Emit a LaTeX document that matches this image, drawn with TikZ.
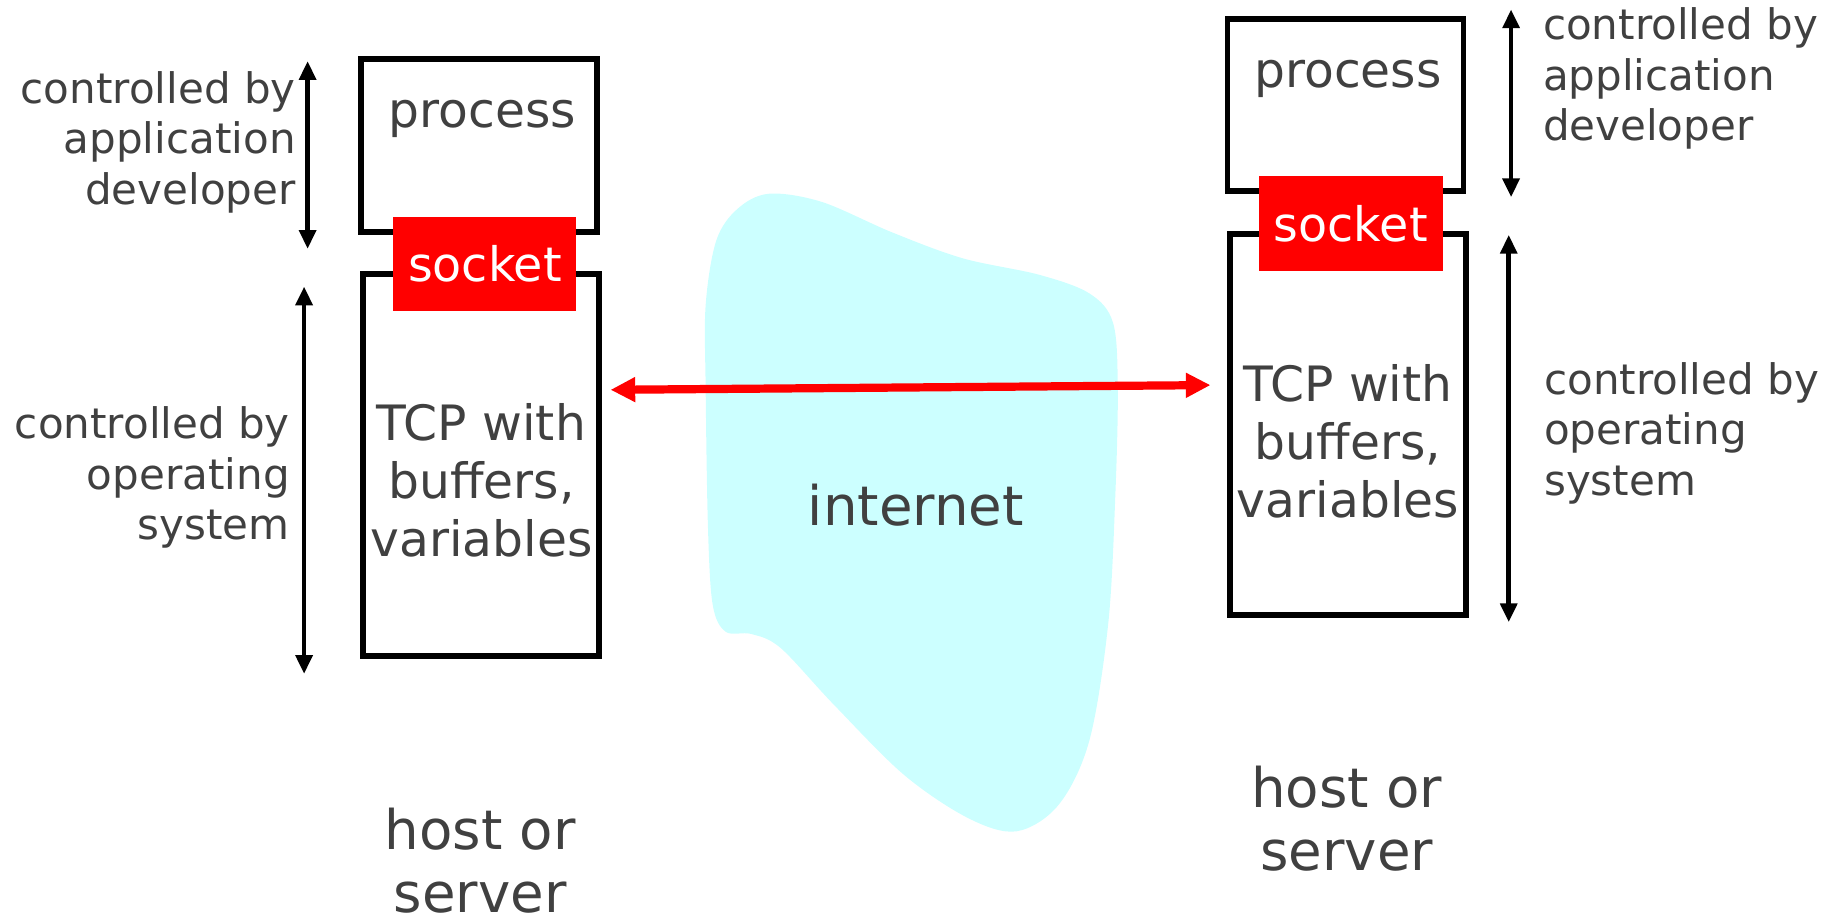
\documentclass[tikz,border=0pt]{standalone}
\usepackage{fontspec}
\setmainfont{DejaVu Sans}
\usetikzlibrary{arrows.meta}
\definecolor{txt}{HTML}{404040}
\definecolor{cloud}{HTML}{CCFFFF}
\definecolor{sockred}{HTML}{FF0000}

\begin{document}
\begin{tikzpicture}[x=1pt,y=-1pt,
  box/.style={draw=black, line width=5pt, minimum width=201pt, inner sep=0pt, outer sep=0pt},
  sock/.style={fill=sockred, minimum width=156pt, minimum height=80pt, inner sep=0pt,
    text=white, font=\fontsize{40.5}{48}\selectfont},
  lbl/.style={text=txt, inner sep=0pt, font=\fontsize{35.8}{43}\selectfont},
  big/.style={text=txt, inner sep=0pt, align=center, font=\fontsize{41.5}{49.5}\selectfont},
  huge/.style={text=txt, inner sep=0pt, align=center, font=\fontsize{46.5}{54}\selectfont},
  ctl/.style={line width=4pt, {Triangle[length=16pt,width=14pt]}-{Triangle[length=16pt,width=14pt]}},
  conn/.style={draw=sockred, line width=7pt, {Triangle[length=21pt,width=20pt]}-{Triangle[length=21pt,width=20pt]}}
]
\useasboundingbox (0,0) rectangle (1568,779);

% the network cloud
\fill[cloud] plot[smooth cycle, tension=0.55] coordinates {
  (655,165) (700,172) (760,198) (820,220) (885,234) (928,250) (948,275)
  (952,330) (950,420) (944,530) (928,630) (902,685) (866,708) (825,697)
  (770,660) (710,600) (665,552) (640,540) (618,538) (607,515) (603,450)
  (601,330) (601,260) (610,205) (628,178)};
\node[huge] (net) at (780,430) {internet};

% left host
\node[box, minimum height=147pt] (lproc) at (408,124) {};
\node[box, minimum height=325pt] (ltcp) at (410,396) {};
\node[sock] (lsock) at (413,225) {socket};
\node[big] (lproct) at (411,101) {process};
\node[big] (ltcpt) at (410,409) {TCP with\\buffers,\\variables};
\node[huge] (lhost) at (409,733) {host or\\server};
\node[lbl, align=right, anchor=east] (lapp) at (252,121) {controlled by\\application\\developer};
\node[lbl, align=right, anchor=east] (los) at (247,407) {controlled by\\operating\\system};
\coordinate (la1) at (262,52);  \coordinate (la2) at (262,212);
\coordinate (lo1) at (259,244); \coordinate (lo2) at (259,574);
\draw[ctl] (la1) -- (la2);
\draw[ctl] (lo1) -- (lo2);

% right host
\node[box, minimum height=146pt] (rproc) at (1146,89.5) {};
\node[box, minimum height=324pt] (rtcp) at (1148,361.5) {};
\node[sock, minimum width=157pt, minimum height=81pt] (rsock) at (1150.5,190.5) {socket};
\node[big] (rproct) at (1148,67) {process};
\node[big] (rtcpt) at (1148,376) {TCP with\\buffers,\\variables};
\node[huge] (rhost) at (1147,697) {host or\\server};
\node[lbl, align=left, anchor=west] (rapp) at (1314,67) {controlled by\\application\\developer};
\node[lbl, align=left, anchor=west] (ros) at (1315,369) {controlled by\\operating\\system};
\coordinate (ra1) at (1287,8);   \coordinate (ra2) at (1287,168);
\coordinate (ro1) at (1285,200); \coordinate (ro2) at (1285,530);
\draw[ctl] (ra1) -- (ra2);
\draw[ctl] (ro1) -- (ro2);

% logical connection between the two TCP endpoints
\coordinate (cl) at (520,332);
\coordinate (cr) at (1031,328);
\draw[conn] (cl) -- (cr);
\end{tikzpicture}
\end{document}
